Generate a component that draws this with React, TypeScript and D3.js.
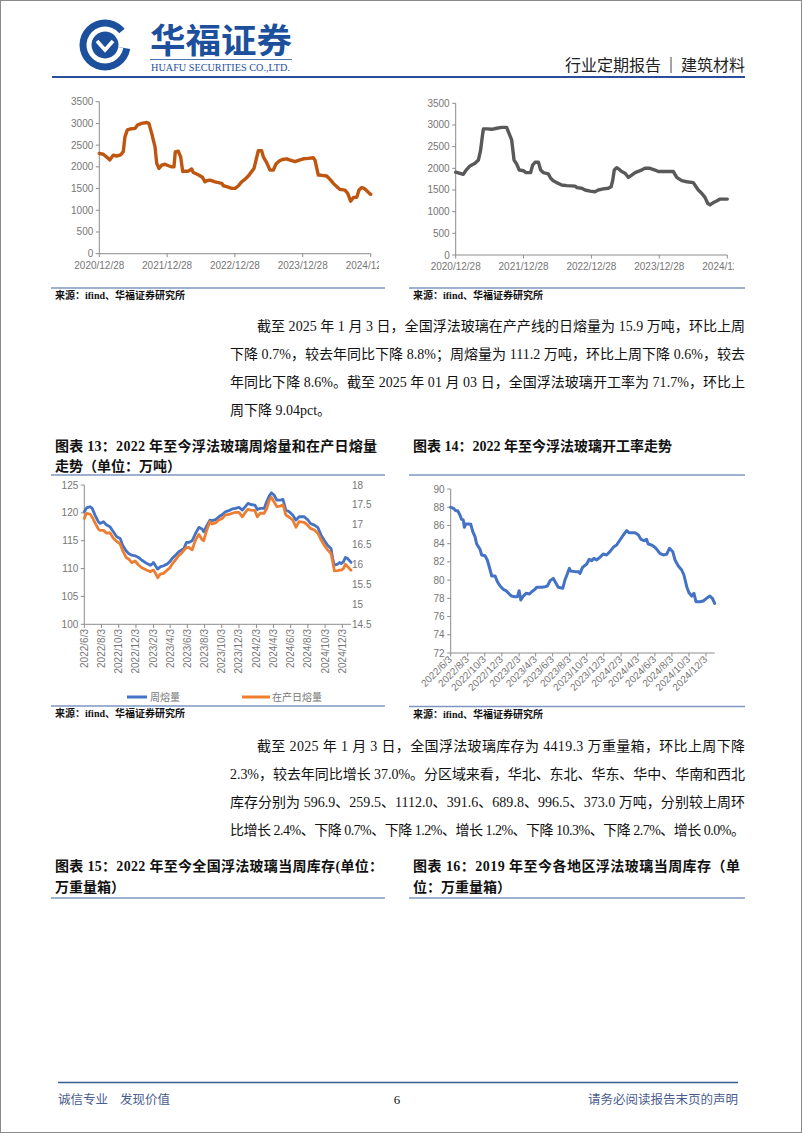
import React from "react";
import * as d3 from "d3";

const parse = (s: string) => d3.timeParse("%Y-%m-%d")(s) as Date;

// ---------- Chart A: left top price series (brown) ----------
const priceADates = ["2020-12-28","2021-01-18","2021-02-14","2021-02-23","2021-03-13","2021-03-31","2021-04-18","2021-04-27","2021-05-06","2021-05-15","2021-05-28","2021-06-11","2021-07-08","2021-07-21","2021-08-13","2021-09-09","2021-09-21","2021-10-06","2021-10-24","2021-11-02","2021-11-14","2021-11-29","2021-12-17","2022-01-04","2022-01-22","2022-02-03","2022-02-10","2022-02-26","2022-03-11","2022-03-22","2022-04-03","2022-04-21","2022-05-09","2022-05-18","2022-06-05","2022-06-23","2022-07-07","2022-07-20","2022-07-29","2022-08-16","2022-09-12","2022-09-30","2022-10-18","2022-10-27","2022-11-14","2022-12-11","2022-12-29","2023-01-16","2023-02-02","2023-02-20","2023-03-10","2023-03-28","2023-04-10","2023-04-21","2023-05-03","2023-05-21","2023-05-30","2023-06-17","2023-07-05","2023-07-23","2023-08-06","2023-08-24","2023-09-09","2023-10-03","2023-10-21","2023-11-17","2023-12-05","2024-01-01","2024-01-27","2024-02-23","2024-03-03","2024-03-21","2024-04-08","2024-05-05","2024-05-23","2024-06-10","2024-06-28","2024-07-16","2024-08-12","2024-08-26","2024-09-11","2024-09-26","2024-10-14","2024-10-26","2024-11-10","2024-11-22","2024-12-07","2024-12-21","2024-12-28"];
const priceAValues = [2310,2290,2195,2160,2270,2250,2270,2300,2350,2690,2850,2870,2885,2960,3000,3020,3000,2770,2460,2080,1965,2040,2060,2025,2000,2000,2345,2360,2230,1890,1900,1900,1950,1870,1835,1795,1755,1655,1680,1695,1655,1635,1620,1565,1545,1505,1505,1565,1655,1710,1790,1890,1965,2160,2370,2370,2230,2095,1925,1925,2065,2135,2170,2185,2155,2120,2150,2185,2195,2210,2155,1810,1805,1790,1710,1620,1545,1480,1465,1390,1210,1295,1300,1465,1525,1505,1450,1390,1365];

// ---------- Chart B: right top price series (gray) ----------
const priceBDates = ["2020-12-28","2021-01-20","2021-02-07","2021-02-22","2021-03-15","2021-04-11","2021-04-29","2021-05-11","2021-05-20","2021-05-26","2021-06-16","2021-07-10","2021-08-06","2021-09-01","2021-09-28","2021-10-07","2021-10-25","2021-11-07","2021-11-21","2021-12-05","2021-12-27","2022-01-10","2022-02-04","2022-02-15","2022-02-28","2022-03-18","2022-03-30","2022-04-14","2022-05-10","2022-05-23","2022-06-06","2022-06-24","2022-07-21","2022-08-17","2022-10-01","2022-10-10","2022-11-06","2022-11-24","2022-12-21","2023-01-16","2023-02-03","2023-03-02","2023-03-29","2023-04-13","2023-04-22","2023-04-30","2023-05-13","2023-05-27","2023-06-09","2023-06-27","2023-07-15","2023-08-02","2023-08-20","2023-09-16","2023-10-12","2023-11-08","2023-12-05","2023-12-23","2024-01-19","2024-03-13","2024-03-31","2024-04-27","2024-05-24","2024-06-28","2024-07-13","2024-07-25","2024-08-12","2024-08-30","2024-09-14","2024-09-26","2024-10-14","2024-11-01","2024-11-19","2024-12-28"];
const priceBValues = [1910,1885,1860,1960,2055,2115,2190,2420,2730,2910,2910,2900,2925,2945,2945,2845,2655,2190,2100,1960,1945,1900,1900,2075,2140,2140,1960,1900,1870,1770,1715,1670,1615,1600,1590,1555,1540,1500,1475,1460,1500,1525,1540,1575,1730,1960,2015,1975,1925,1885,1790,1845,1900,1945,2000,2000,1960,1925,1925,1925,1790,1715,1690,1670,1575,1500,1425,1330,1190,1155,1210,1245,1290,1290];

const yearTicks = ["2020-12-28","2021-12-28","2022-12-28","2023-12-28","2024-12-28"];
const priceTicks = [0,500,1000,1500,2000,2500,3000,3500];

// ---------- Chart 13: weekly melt (left axis) & daily melt (right axis) ----------
const meltDates = ["2022-06-03","2022-06-11","2022-06-23","2022-07-01","2022-07-11","2022-07-23","2022-07-29","2022-08-10","2022-08-21","2022-09-02","2022-09-14","2022-09-26","2022-10-08","2022-10-17","2022-10-29","2022-11-07","2022-11-18","2022-11-30","2022-12-12","2022-12-24","2023-01-11","2023-01-23","2023-01-29","2023-02-03","2023-02-09","2023-02-18","2023-02-27","2023-03-11","2023-03-23","2023-04-01","2023-04-10","2023-04-22","2023-05-03","2023-05-15","2023-05-21","2023-05-31","2023-06-08","2023-06-20","2023-07-02","2023-07-14","2023-07-25","2023-07-31","2023-08-10","2023-08-22","2023-08-30","2023-09-11","2023-09-23","2023-10-05","2023-10-16","2023-10-28","2023-11-09","2023-11-21","2023-12-03","2023-12-15","2023-12-27","2024-01-04","2024-01-13","2024-01-28","2024-02-06","2024-02-16","2024-03-01","2024-03-10","2024-03-19","2024-03-27","2024-04-05","2024-04-15","2024-04-27","2024-05-07","2024-05-17","2024-05-29","2024-06-10","2024-06-22","2024-07-03","2024-07-21","2024-08-02","2024-08-12","2024-08-26","2024-09-07","2024-09-19","2024-09-30","2024-10-12","2024-10-24","2024-10-30","2024-11-05","2024-11-17","2024-11-23","2024-11-29","2024-12-07","2024-12-14","2024-12-22","2025-01-03"];
const weeklyMelt = [120.2,120.9,121.1,120.8,119.6,118.4,118.1,118.4,117.8,117.5,116.6,115.7,115.4,114.2,113.2,112.7,112.4,112.3,112.0,111.5,110.9,110.6,110.8,111.1,110.6,109.9,110.3,110.5,110.8,111.2,111.8,112.4,113.0,113.4,113.5,114.7,114.7,115.0,116.3,117.4,117.1,116.6,117.6,118.7,118.6,118.8,119.3,119.7,120.2,120.4,120.7,120.8,121.0,120.5,121.2,121.7,121.5,121.4,120.6,120.8,120.8,122.0,123.0,123.6,123.2,122.3,122.3,122.4,120.5,120.2,119.6,118.7,119.3,119.3,118.8,118.1,117.8,117.4,116.0,115.1,114.2,113.6,111.8,110.6,110.8,111.1,110.9,111.2,112.0,111.8,111.1];
const dailyMelt = [17.16,17.29,17.27,17.19,17.05,16.89,16.86,16.86,16.79,16.80,16.66,16.58,16.52,16.35,16.18,16.14,16.05,16.09,15.99,15.92,15.86,15.82,15.85,15.86,15.80,15.67,15.76,15.78,15.86,15.91,16.01,16.12,16.22,16.30,16.35,16.43,16.43,16.37,16.62,16.76,16.63,16.60,16.85,17.08,17.02,17.05,17.12,17.16,17.25,17.26,17.29,17.31,17.31,17.20,17.33,17.39,17.37,17.36,17.20,17.29,17.29,17.41,17.61,17.69,17.58,17.46,17.47,17.50,17.25,17.19,17.12,16.94,17.08,17.06,16.99,16.91,16.87,16.79,16.62,16.49,16.37,16.28,16.07,15.84,15.85,15.86,15.86,15.90,16.01,15.95,15.86];
const weeklyTicks = [100,105,110,115,120,125];
const dailyTicks = [14.5,15,15.5,16,16.5,17,17.5,18];

// ---------- Chart 14: operating rate ----------
const rateDates = ["2022-06-03","2022-06-13","2022-06-21","2022-06-28","2022-07-06","2022-07-12","2022-07-18","2022-07-22","2022-07-27","2022-08-05","2022-08-14","2022-08-21","2022-08-29","2022-09-04","2022-09-16","2022-09-22","2022-10-04","2022-10-12","2022-10-19","2022-10-28","2022-11-09","2022-11-17","2022-11-27","2022-12-08","2022-12-18","2022-12-30","2023-01-07","2023-01-19","2023-01-28","2023-02-03","2023-02-09","2023-02-18","2023-02-28","2023-03-12","2023-03-20","2023-04-01","2023-04-07","2023-04-25","2023-05-07","2023-05-15","2023-05-25","2023-06-05","2023-06-14","2023-06-23","2023-07-09","2023-07-17","2023-08-02","2023-08-06","2023-08-22","2023-09-03","2023-09-09","2023-09-18","2023-10-03","2023-10-12","2023-10-21","2023-10-29","2023-11-08","2023-11-19","2023-12-01","2023-12-13","2023-12-25","2024-01-06","2024-01-18","2024-01-30","2024-02-11","2024-02-23","2024-03-02","2024-03-12","2024-03-24","2024-04-05","2024-04-14","2024-04-25","2024-05-04","2024-05-10","2024-05-22","2024-06-03","2024-06-12","2024-06-21","2024-07-03","2024-07-15","2024-07-25","2024-08-06","2024-08-14","2024-08-26","2024-09-07","2024-09-15","2024-09-25","2024-10-03","2024-10-13","2024-10-21","2024-10-28","2024-11-11","2024-11-23","2024-12-05","2024-12-17","2024-12-26","2025-01-03"];
const rateValues = [87.99,87.88,87.62,87.62,87.15,86.67,86.60,85.79,86.16,86.16,86.12,85.32,84.77,83.96,83.38,82.76,82.68,82.21,81.47,80.45,80.45,79.83,79.35,78.99,78.84,78.47,78.25,78.18,78.18,78.84,77.82,78.25,78.55,78.47,78.73,78.99,79.21,79.21,79.28,79.35,79.94,80.19,79.72,79.21,79.10,80.01,81.29,81.00,80.93,80.93,80.74,81.40,81.77,82.28,82.14,82.39,82.21,82.50,82.87,82.76,83.12,83.60,83.85,84.40,84.95,85.43,85.21,85.21,85.21,84.95,84.48,84.33,84.48,83.96,83.85,83.60,83.30,82.94,82.76,82.83,83.49,83.12,82.21,81.55,81.11,80.56,79.28,78.62,78.25,78.55,77.63,77.63,77.71,78.00,78.25,78.00,77.45];
const rateTicks = [72,74,76,78,80,82,84,86,88,90];

const monthTicks = ["2022-06-03","2022-08-03","2022-10-03","2022-12-03","2023-02-03","2023-04-03","2023-06-03","2023-08-03","2023-10-03","2023-12-03","2024-02-03","2024-04-03","2024-06-03","2024-08-03","2024-10-03","2024-12-03"];

// ---------- texts ----------
const para1 = [
  "截至 2025 年 1 月 3 日，全国浮法玻璃在产产线的日熔量为 15.9 万吨，环比上周",
  "下降 0.7%，较去年同比下降 8.8%；周熔量为 111.2 万吨，环比上周下降 0.6%，较去",
  "年同比下降 8.6%。截至 2025 年 01 月 03 日，全国浮法玻璃开工率为 71.7%，环比上",
  "周下降 9.04pct。",
];
const para2 = [
  "截至 2025 年 1 月 3 日，全国浮法玻璃库存为 4419.3 万重量箱，环比上周下降",
  "2.3%，较去年同比增长 37.0%。分区域来看，华北、东北、华东、华中、华南和西北",
  "库存分别为 596.9、259.5、1112.0、391.6、689.8、996.5、373.0 万吨，分别较上周环",
  "比增长 2.4%、下降 0.7%、下降 1.2%、增长 1.2%、下降 10.3%、下降 2.7%、增长 0.0%。",
];
const source = "来源：ifind、华福证券研究所";
const legendNames = ["周熔量", "在产日熔量"];

const SERIF = '"Liberation Serif", "Times New Roman", "Noto Sans CJK SC", serif';
const SANS = '"Liberation Sans", Arial, "Noto Sans CJK SC", sans-serif';
const AXIS = "#8c8c8c";
const TICKTXT = "#767676";
const BLUE = "#4472C4";
const ORANGE = "#ED7D31";
const BROWN = "#BF5610";
const DGRAY = "#595959";
const RULE = "#7f97c0";
const NAVY = "#1c4f9c";

type Pt = [Date, number];
const zip = (ds: string[], vs: number[]): Pt[] => ds.map((d, i) => [parse(d), vs[i]]);
const ymd = (d: Date) => `${d.getFullYear()}/${d.getMonth() + 1}/${d.getDate()}`;
const ymd2 = d3.timeFormat("%Y/%m/%d");

function Line({ data, x, y, color, w }: any) {
  const gen = d3.line<Pt>().x((d) => x(d[0])).y((d) => y(d[1])).curve(d3.curveLinear);
  return <path d={gen(data) || ""} fill="none" stroke={color} strokeWidth={w} strokeLinejoin="round" strokeLinecap="round" />;
}

function YAxis({ x, y, ticks, side = "left", line = true }: any) {
  const [r0, r1] = y.range();
  return (
    <g>
      {line && <line x1={x} x2={x} y1={r0} y2={r1} stroke={AXIS} strokeWidth={1} />}
      {ticks.map((t: number) => (
        <g key={t}>
          {line && <line x1={x - 3.5} x2={x} y1={y(t)} y2={y(t)} stroke={AXIS} />}
          <text
            x={side === "left" ? x - 6 : x + 4}
            y={y(t)}
            dy="0.35em"
            textAnchor={side === "left" ? "end" : "start"}
            fontFamily={SANS}
            fontSize={10}
            fill={TICKTXT}
          >
            {String(t)}
          </text>
        </g>
      ))}
    </g>
  );
}

function PriceChart({ data, x0, x1, yBottom, yTop, color, clipId, clipRight }: any) {
  const x = d3.scaleTime().domain([parse(yearTicks[0]), parse(yearTicks[yearTicks.length - 1])]).range([x0, x1]);
  const y = d3.scaleLinear().domain([0, 3500]).range([yBottom, yTop]);
  return (
    <g>
      <defs>
        <clipPath id={clipId}>
          <rect x={x0 - 60} y={yTop - 15} width={clipRight - x0 + 60} height={yBottom - yTop + 40} />
        </clipPath>
      </defs>
      <YAxis x={x0} y={y} ticks={priceTicks} />
      <line x1={x0} x2={x1} y1={yBottom} y2={yBottom} stroke={AXIS} />
      <g clipPath={`url(#${clipId})`}>
        {yearTicks.map((t) => (
          <g key={t}>
            <line x1={x(parse(t))} x2={x(parse(t))} y1={yBottom} y2={yBottom + 3.5} stroke={AXIS} />
            <text x={x(parse(t))} y={yBottom + 11.5} dy="0.35em" textAnchor="middle" fontFamily={SANS} fontSize={10} fill={TICKTXT}>
              {ymd2(parse(t))}
            </text>
          </g>
        ))}
      </g>
      <Line data={data} x={x} y={y} color={color} w={3.4} />
    </g>
  );
}

function SourceBlock({ x0, x1, yLine }: any) {
  return (
    <g>
      <line x1={x0} x2={x1} y1={yLine} y2={yLine} stroke={RULE} strokeWidth={1.3} />
      <text x={x0 + 4} y={yLine + 11} fontFamily={SERIF} fontSize={10} fontWeight="bold" fill="#111">
        {source}
      </text>
    </g>
  );
}

function Logo() {
  const ring = d3.arc()({ innerRadius: 13.5, outerRadius: 18.5, startAngle: 0.55 * Math.PI, endAngle: 2.35 * Math.PI } as any) || "";
  const gap = d3.arc()({ innerRadius: 13.5, outerRadius: 27, startAngle: 0.28 * Math.PI, endAngle: 0.55 * Math.PI } as any) || "";
  return (
    <g transform="translate(105,45)">
      <circle r={25.5} fill={NAVY} />
      <path d={ring} fill="#fff" />
      <path d={gap} fill="#fff" />
      <path d="M -8 -4 L 0 5 L 8 -4" fill="none" stroke="#fff" strokeWidth={3.6} strokeLinejoin="miter" />
    </g>
  );
}

export default function App() {
  const dataA = zip(priceADates, priceAValues);
  const dataB = zip(priceBDates, priceBValues);
  const weekly = zip(meltDates, weeklyMelt);
  const daily = zip(meltDates, dailyMelt);
  const rate = zip(rateDates, rateValues);

  // chart 13 scales
  const x13 = d3.scaleTime().domain([parse(monthTicks[0]), parse(monthTicks[monthTicks.length - 1])]).range([84.3, 342.3]);
  const yL = d3.scaleLinear().domain([100, 125]).range([624.3, 485]);
  const yR = d3.scaleLinear().domain([14.5, 18]).range([624.3, 485]);
  const x13End = x13(parse(meltDates[meltDates.length - 1]));

  // chart 14 scales
  const x14 = d3.scaleTime().domain([parse(monthTicks[0]), parse(monthTicks[monthTicks.length - 1])]).range([450.7, 706]);
  const y14 = d3.scaleLinear().domain([72, 90]).range([653, 489]);
  const x14End = x14(parse(rateDates[rateDates.length - 1]));

  const bodyFont = { fontFamily: SERIF, fontSize: 14, fill: "#111" } as any;
  const titleFont = { fontFamily: SERIF, fontSize: 14, fontWeight: "bold", fill: "#111" } as any;

  return (
    <svg width={802} height={1133} style={{ position: "absolute", left: 0, top: 0, display: "block", background: "#fff" }}>
      <rect x={0.5} y={0.5} width={801} height={1132} fill="#fff" stroke="#8a8a8a" strokeWidth={1} />

      {/* header */}
      <Logo />
      <text x={150} y={53} fontFamily={SERIF} fontSize={34} fontWeight="bold" fill={NAVY} textLength={142} lengthAdjust="spacingAndGlyphs">
        华福证券
      </text>
      <line x1={150} x2={292} y1={59.5} y2={59.5} stroke={NAVY} strokeWidth={0.8} />
      <text x={151} y={70.5} fontFamily={SERIF} fontSize={10} fill={NAVY} textLength={139} lengthAdjust="spacingAndGlyphs">
        HUAFU SECURITIES CO.,LTD.
      </text>
      <text x={565} y={71} fontFamily={SERIF} fontSize={16} fill="#222" textLength={96} lengthAdjust="spacing">行业定期报告</text>
      <line x1={671} x2={671} y1={57} y2={73} stroke="#333" strokeWidth={0.9} />
      <text x={681} y={71} fontFamily={SERIF} fontSize={16} fill="#222" textLength={64} lengthAdjust="spacing">建筑材料</text>
      <line x1={52} x2={745} y1={77} y2={77} stroke="#2b4e9a" strokeWidth={2} />

      {/* top charts */}
      <PriceChart data={dataA} x0={99.3} x1={370.7} yBottom={253.7} yTop={101.7} color={BROWN} clipId="clipA" clipRight={379} />
      <PriceChart data={dataB} x0={455.7} x1={727.3} yBottom={255} yTop={103.3} color={DGRAY} clipId="clipB" clipRight={734} />
      <SourceBlock x0={51} x1={385} yLine={288} />
      <SourceBlock x0={409} x1={745} yLine={288} />

      {/* paragraph 1 */}
      {para1.map((s, i) => (
        <text
          key={i}
          x={i === 0 ? 257 : 230}
          y={330.5 + i * 28}
          {...bodyFont}
          {...(i < 3 ? { textLength: i === 0 ? 488 : 515, lengthAdjust: "spacing" } : {})}
        >
          {s}
        </text>
      ))}

      {/* titles 13/14 */}
      <text x={55} y={451} {...titleFont} textLength={322} lengthAdjust="spacing">图表 13：2022 年至今浮法玻璃周熔量和在产日熔量</text>
      <text x={55} y={471} {...titleFont}>走势（单位：万吨）</text>
      <text x={413} y={451} {...titleFont} textLength={259} lengthAdjust="spacing">图表 14：2022 年至今浮法玻璃开工率走势</text>
      <line x1={51} x2={385} y1={475} y2={475} stroke={RULE} strokeWidth={1.3} />
      <line x1={409} x2={745} y1={475} y2={475} stroke={RULE} strokeWidth={1.3} />

      {/* chart 13 */}
      <YAxis x={84.3} y={yL} ticks={weeklyTicks} />
      <YAxis x={348} y={yR} ticks={dailyTicks} side="right" line={false} />
      <line x1={84.3} x2={x13End} y1={624.3} y2={624.3} stroke={AXIS} />
      {monthTicks.map((t) => {
        const xx = x13(parse(t));
        return (
          <g key={t}>
            <line x1={xx} x2={xx} y1={624.3} y2={628} stroke={AXIS} />
            <text transform={`translate(${xx},${629}) rotate(-90)`} dy="0.35em" textAnchor="end" fontFamily={SANS} fontSize={10} fill={TICKTXT}>
              {ymd(parse(t))}
            </text>
          </g>
        );
      })}
      <Line data={weekly} x={x13} y={yL} color={BLUE} w={2.8} />
      <Line data={daily} x={x13} y={yR} color={ORANGE} w={2.8} />
      <line x1={127} x2={147} y1={697} y2={697} stroke={BLUE} strokeWidth={3} />
      <text x={150} y={697} dy="0.35em" fontFamily={SANS} fontSize={10} fill={TICKTXT}>{legendNames[0]}</text>
      <line x1={242} x2={270} y1={697} y2={697} stroke={ORANGE} strokeWidth={3} />
      <text x={272} y={697} dy="0.35em" fontFamily={SANS} fontSize={10} fill={TICKTXT}>{legendNames[1]}</text>
      <SourceBlock x0={51} x1={385} yLine={706} />

      {/* chart 14 */}
      <YAxis x={450.7} y={y14} ticks={rateTicks} />
      <line x1={450.7} x2={x14End} y1={653} y2={653} stroke={AXIS} />
      {monthTicks.map((t) => {
        const xx = x14(parse(t));
        return (
          <g key={t}>
            <line x1={xx} x2={xx} y1={653} y2={656.5} stroke={AXIS} />
            <text transform={`translate(${xx + 2},${660}) rotate(-45)`} textAnchor="end" fontFamily={SANS} fontSize={10} fill={TICKTXT}>
              {ymd(parse(t))}
            </text>
          </g>
        );
      })}
      <Line data={rate} x={x14} y={y14} color={BLUE} w={3} />
      <SourceBlock x0={409} x1={745} yLine={706.5} />

      {/* paragraph 2 */}
      {para2.map((s, i) => (
        <text key={i} x={i === 0 ? 257 : 230} y={750.5 + i * 28} {...bodyFont} textLength={i === 0 ? 488 : 515} lengthAdjust="spacing">
          {s}
        </text>
      ))}

      {/* titles 15/16 */}
      <text x={55} y={871} {...titleFont} textLength={328} lengthAdjust="spacing">图表 15：2022 年至今全国浮法玻璃当周库存(单位：</text>
      <text x={55} y={892} {...titleFont}>万重量箱）</text>
      <text x={413} y={871} {...titleFont} textLength={327} lengthAdjust="spacing">图表 16：2019 年至今各地区浮法玻璃当周库存（单</text>
      <text x={413} y={892} {...titleFont}>位：万重量箱）</text>
      <line x1={51} x2={385} y1={898} y2={898} stroke={RULE} strokeWidth={1.3} />
      <line x1={409} x2={745} y1={898} y2={898} stroke={RULE} strokeWidth={1.3} />

      {/* footer */}
      <line x1={58} x2={738} y1={1082.5} y2={1082.5} stroke="#3a5a94" strokeWidth={1.5} />
      <text x={58} y={1104} fontFamily={SERIF} fontSize={12.5} fill="#4a5d8f">诚信专业</text>
      <text x={120} y={1104} fontFamily={SERIF} fontSize={12.5} fill="#4a5d8f">发现价值</text>
      <text x={397} y={1104} textAnchor="middle" fontFamily={SERIF} fontSize={13} fill="#111">6</text>
      <text x={738} y={1104} textAnchor="end" fontFamily={SERIF} fontSize={12.5} fill="#4a5d8f">请务必阅读报告末页的声明</text>
    </svg>
  );
}
